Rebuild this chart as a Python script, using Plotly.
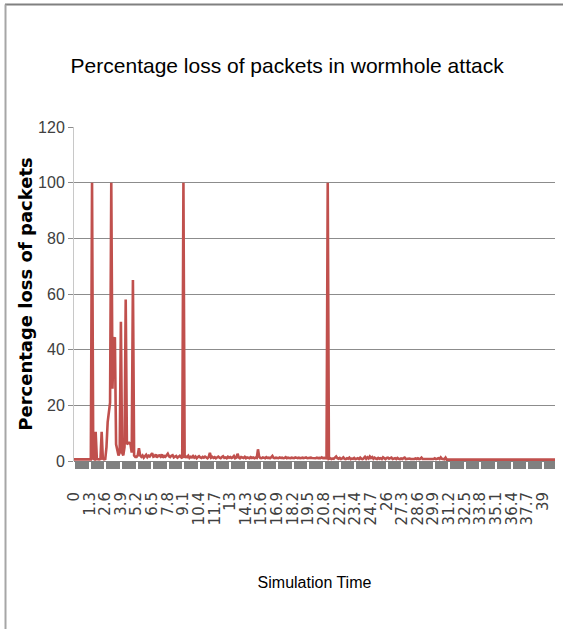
import plotly.graph_objects as go

# Categories: simulation time from 0 to 40 in steps of 0.1
SIM_TIME = [f"{i / 10:g}" for i in range(401)]

TICK_LABELS = ["0", "1.3", "2.6", "3.9", "5.2", "6.5", "7.8", "9.1", "10.4", "11.7",
               "13", "14.3", "15.6", "16.9", "18.2", "19.5", "20.8", "22.1", "23.4",
               "24.7", "26", "27.3", "28.6", "29.9", "31.2", "32.5", "33.8", "35.1",
               "36.4", "37.7", "39"]

Y_TICKS = [0, 20, 40, 60, 80, 100, 120]

# Percentage loss of packets, rows of 10 values
LOSS_PERCENT = [
    0.6, 0.6, 0.6, 0.6, 0.6, 0.6, 0.6, 0.6, 0.6, 0.6,        # 0.0 - 0.9
    0.6, 0.6, 0.6, 0.6, 0.6, 100, 0.8, 0.6, 10.5, 0.7,       # 1.0 - 1.9
    0.6, 0.6, 0.7, 10.5, 0.8, 0.6, 0.7, 5, 14, 19,           # 2.0 - 2.9
    21, 100, 26, 43, 44.5, 6, 4, 2, 3, 50,                   # 3.0 - 3.9
    3, 2, 5, 58, 6, 6.5, 6.5, 6, 3, 65,                      # 4.0 - 4.9
    2, 1.5, 1.5, 2, 4.6, 2, 1.5, 2, 1.2, 1.8,                # 5.0 - 5.9
    2.2, 1.4, 1.9, 1.6, 2.1, 2.8, 1.5, 1.7, 2.3, 1.3,        # 6.0 - 6.9
    1.9, 2.0, 1.6, 2.4, 1.2, 1.8, 1.5, 2.2, 2.6, 1.7,        # 7.0 - 7.9
    1.4, 1.9, 2.1, 1.3, 1.6, 1.8, 1.2, 1.5, 1.9, 1.4,        # 8.0 - 8.9
    1.0, 100, 1.2, 1.6, 1.4, 1.9, 1.1, 1.5, 1.3, 1.8,        # 9.0 - 9.9
    1.2, 1.6, 1.0, 1.4, 1.7, 1.3, 1.1, 1.5, 1.2, 1.6,        # 10.0 - 10.9
    1.3, 1.0, 1.4, 2.9, 1.2, 1.5, 1.1, 1.4, 1.0, 1.3,        # 11.0 - 11.9
    1.6, 1.2, 1.0, 1.4, 1.7, 1.1, 1.3, 1.0, 1.5, 1.2,        # 12.0 - 12.9
    1.4, 1.1, 1.3, 1.8, 1.0, 1.2, 2.6, 1.3, 1.0, 1.4,        # 13.0 - 13.9
    1.2, 1.1, 1.5, 1.0, 1.3, 1.2, 1.0, 1.4, 1.1, 1.3,        # 14.0 - 14.9
    1.0, 1.2, 1.1, 4.2, 1.5, 1.1, 1.0, 1.3, 1.2, 1.0,        # 15.0 - 15.9
    1.4, 1.1, 1.2, 1.0, 1.3, 1.8, 1.1, 1.0, 1.2, 1.1,        # 16.0 - 16.9
    1.0, 1.3, 1.1, 1.2, 1.0, 1.1, 1.4, 1.0, 1.2, 1.1,        # 17.0 - 17.9
    1.0, 1.2, 1.1, 1.0, 1.3, 1.1, 1.0, 1.2, 1.0, 1.1,        # 18.0 - 18.9
    1.2, 1.0, 1.1, 1.3, 1.0, 1.1, 1.0, 1.2, 1.1, 1.0,        # 19.0 - 19.9
    1.1, 1.0, 1.2, 1.0, 1.1, 1.0, 1.3, 1.0, 1.1, 1.0,        # 20.0 - 20.9
    1.0, 100, 0.8, 1.0, 0.7, 0.9, 0.8, 1.2, 1.6, 1.0,        # 21.0 - 21.9
    0.8, 1.1, 0.7, 0.9, 1.3, 0.8, 0.7, 1.0, 0.8, 1.2,        # 22.0 - 22.9
    0.7, 0.9, 0.8, 1.1, 0.7, 0.8, 1.0, 0.7, 1.2, 0.8,        # 23.0 - 23.9
    0.7, 1.0, 1.5, 0.8, 1.3, 0.9, 1.6, 1.1, 1.4, 0.8,        # 24.0 - 24.9
    1.2, 0.9, 0.7, 1.1, 0.8, 1.0, 0.7, 1.3, 0.8, 0.7,        # 25.0 - 25.9
    1.1, 1.2, 0.8, 0.9, 1.2, 0.7, 0.8, 1.0, 0.7, 1.1,        # 26.0 - 26.9
    0.8, 0.7, 0.9, 0.7, 1.0, 1.2, 0.7, 0.8, 0.7, 0.9,        # 27.0 - 27.9
    0.7, 0.8, 0.7, 0.7, 0.9, 0.7, 1.0, 0.7, 0.8, 1.2,        # 28.0 - 28.9
    0.7, 0.7, 0.7, 0.8, 0.7, 0.7, 0.7, 0.9, 0.7, 0.7,        # 29.0 - 29.9
    1.0, 0.7, 0.8, 1.0, 0.7, 1.3, 0.8, 0.7, 0.6, 1.2,        # 30.0 - 30.9
    0.5, 0.5, 0.5, 0.5, 0.5, 0.5, 0.5, 0.5, 0.5, 0.5,        # 31.0 - 31.9
    0.5, 0.5, 0.5, 0.5, 0.5, 0.5, 0.5, 0.5, 0.5, 0.5,        # 32.0 - 32.9
    0.5, 0.5, 0.5, 0.5, 0.5, 0.5, 0.5, 0.5, 0.5, 0.5,        # 33.0 - 33.9
    0.5, 0.5, 0.5, 0.5, 0.5, 0.5, 0.5, 0.5, 0.5, 0.5,        # 34.0 - 34.9
    0.5, 0.5, 0.5, 0.5, 0.5, 0.5, 0.5, 0.5, 0.5, 0.5,        # 35.0 - 35.9
    0.5, 0.5, 0.5, 0.5, 0.5, 0.5, 0.5, 0.5, 0.5, 0.5,        # 36.0 - 36.9
    0.5, 0.5, 0.5, 0.5, 0.5, 0.5, 0.5, 0.5, 0.5, 0.5,        # 37.0 - 37.9
    0.5, 0.5, 0.5, 0.5, 0.5, 0.5, 0.5, 0.5, 0.5, 0.5,        # 38.0 - 38.9
    0.5, 0.5, 0.5, 0.5, 0.5, 0.5, 0.5, 0.5, 0.5, 0.5,        # 39.0 - 39.9
    0.5,                                                     # 40.0
]

NARROW = "Liberation Sans, Arial, sans-serif"

fig = go.Figure(
    go.Scatter(
        x=SIM_TIME,
        y=LOSS_PERCENT,
        mode="lines",
        line=dict(color="#C0504D", width=2.6),
        name="Percentage loss",
        hoverinfo="x+y",
    )
)

fig.update_layout(
    width=563,
    height=629,
    margin=dict(l=74, r=8, t=127, b=168),
    paper_bgcolor="white",
    plot_bgcolor="white",
    showlegend=False,
    title=dict(
        text="Percentage loss of packets in wormhole attack",
        x=0.51, xanchor="center",
        y=0.895, yanchor="middle",
        font=dict(family=NARROW, size=21, color="black"),
    ),
    xaxis=dict(
        type="category",
        tickmode="array",
        tickvals=TICK_LABELS,
        ticktext=TICK_LABELS,
        tickangle=-90,
        ticks="outside",
        ticklen=8,
        tickwidth=1.5,
        tickcolor="white",
        ticklabelstandoff=16,
        showgrid=False,
        showline=False,
        zeroline=False,
        automargin=False,
        tickfont=dict(family="DejaVu Sans, Verdana, sans-serif", size=15, color="#404040"),
        title=dict(
            text="Simulation Time",
            font=dict(family=NARROW, size=16, color="black"),
            standoff=52,
        ),
    ),
    yaxis=dict(
        range=[0, 120],
        tickmode="array",
        tickvals=Y_TICKS,
        showgrid=True,
        gridcolor="#8C8C8C",
        gridwidth=1,
        showline=True,
        linecolor="#C8C8C8",
        linewidth=1,
        ticks="outside",
        ticklen=5,
        tickcolor="#8C8C8C",
        zeroline=False,
        automargin=False,
        tickfont=dict(family=NARROW, size=16, color="#404040"),
        title=dict(
            text="<b>Percentage loss of packets</b>",
            font=dict(family="DejaVu Sans, Verdana, sans-serif", size=18, color="black"),
            standoff=0,
        ),
    ),
    shapes=[
        # grey floor strip under the plot area
        dict(type="rect", xref="x domain", yref="paper", x0=0, x1=1, y0=-0.024, y1=0,
             fillcolor="#808080", line=dict(width=0), layer="below"),
        # frame: top border
        dict(type="line", xref="paper", yref="paper", x0=-0.1435, x1=1.02, y0=1.3668, y1=1.3668,
             line=dict(color="#808080", width=2)),
        # frame: left border
        dict(type="line", xref="paper", yref="paper", x0=-0.1424, x1=-0.1424, y0=1.3668, y1=-0.52,
             line=dict(color="#A6A6A6", width=2)),
    ],
)

fig.write_html(
    "out.html",
    config={"displayModeBar": False},
    post_script="document.body.style.margin='0';document.body.style.overflow='hidden';",
)
